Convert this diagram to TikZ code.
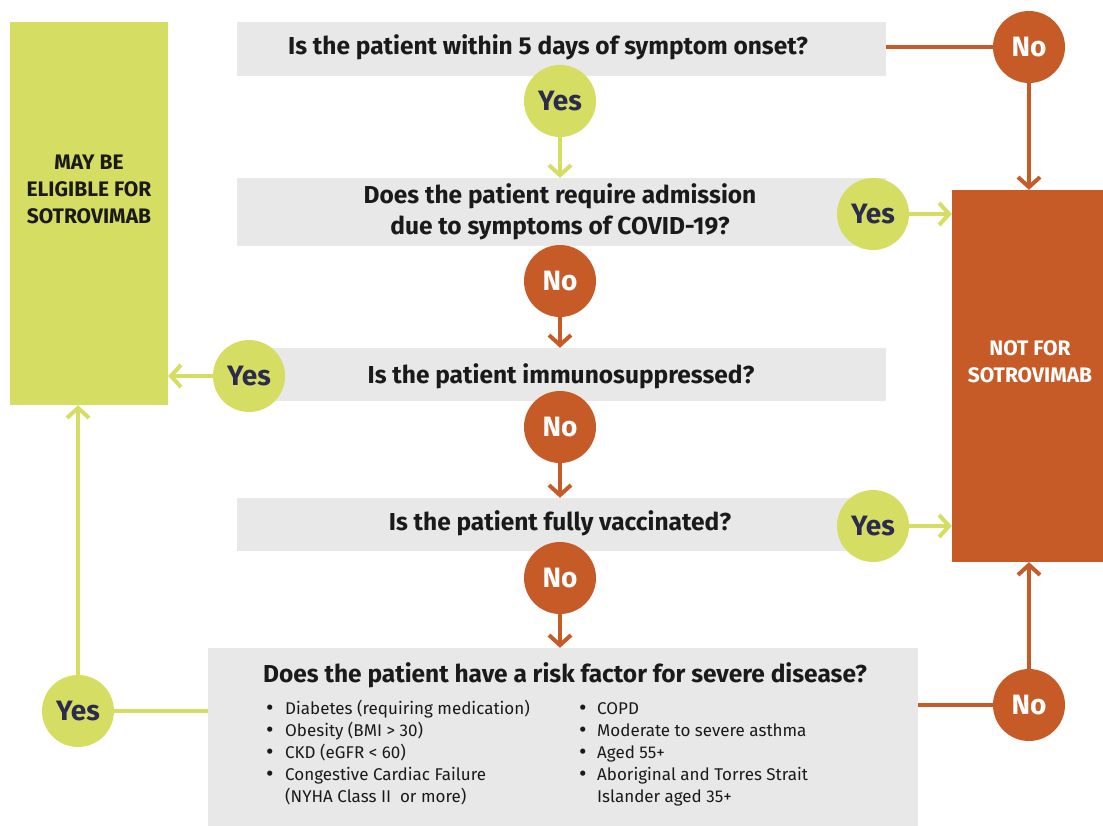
\documentclass[tikz,border=0pt]{standalone}
\usepackage{fontspec}
\setmainfont{Fira Sans}
\usetikzlibrary{arrows.meta}
\definecolor{lime}{HTML}{D5DD63}
\definecolor{rust}{HTML}{C75B27}
\definecolor{panel}{HTML}{E8E8E8}
\definecolor{navy}{HTML}{2B2B4E}
\definecolor{ink}{HTML}{1A1A1A}
\newcommand{\bigbul}{\raisebox{-1.2pt}{\fontsize{23}{22}\selectfont\textbullet}}
\begin{document}
\begin{tikzpicture}[x=1pt,y=-1pt,
  qbox/.style={fill=panel,draw=none,inner sep=0pt},
  qtext/.style={font=\bfseries\fontsize{24.5}{31}\selectfont,text=ink,align=center,inner sep=0pt},
  endbox/.style={draw=none,inner sep=0pt},
  endtext/.style={font=\bfseries\fontsize{21}{27}\selectfont,align=center,inner sep=0pt},
  yescirc/.style={circle,fill=lime,minimum size=72pt,inner sep=0pt,font=\bfseries\fontsize{28}{30}\selectfont,text=navy},
  nocirc/.style={circle,fill=rust,minimum size=72pt,inner sep=0pt,font=\bfseries\fontsize{28}{30}\selectfont,text=white},
  gline/.style={draw=lime,line width=4pt},
  oline/.style={draw=rust,line width=4pt},
  tip/.style={-{Straight Barb[length=10pt,width=22pt]}},
  bul/.style={font=\fontsize{17}{22}\selectfont,text=ink,inner sep=0pt,anchor=north west}
]
\useasboundingbox (0,0) rectangle (1103,825);
% end boxes
\node[endbox,fill=lime,minimum width=158pt,minimum height=383pt] (elig) at (89,213.5) {};
\node[endtext,text=ink] (eligt) at (89,189) {MAY BE\\ELIGIBLE FOR\\SOTROVIMAB};
\node[endbox,fill=rust,minimum width=156pt,minimum height=372pt] (notb) at (1030,376) {};
\node[endtext,text=white] (notbt) at (1030,362) {NOT FOR\\SOTROVIMAB};
% question boxes
\node[qbox,minimum width=649pt,minimum height=54pt] (q1) at (561.5,49) {};
\node[qtext] (q1t) at (548,47) {Is the patient within 5 days of symptom onset?};
\node[qbox,minimum width=649pt,minimum height=68pt] (q2) at (561.5,212) {};
\node[qtext] (q2t) at (560,212) {Does the patient require admission\\due to symptoms of COVID-19?};
\node[qbox,minimum width=649pt,minimum height=53pt] (q3) at (561.5,374.5) {};
\node[qtext] (q3t) at (561,376) {Is the patient immunosuppressed?};
\node[qbox,minimum width=649pt,minimum height=53pt] (q4) at (561.5,524.5) {};
\node[qtext] (q4t) at (560,523) {Is the patient fully vaccinated?};
\node[qbox,minimum width=710pt,minimum height=180pt] (q5) at (563,738) {};
\node[qtext] (q5t) at (565,675) {Does the patient have a risk factor for severe disease?};
\node[bul] (l1) at (266,699) {\begin{tabular}{@{}p{19pt}@{}l@{}}
\bigbul & Diabetes (requiring medication)\\
\bigbul & Obesity (BMI > 30)\\
\bigbul & CKD (eGFR < 60)\\
\bigbul & Congestive Cardiac Failure\\
 & (NYHA Class II\ \ or more)
\end{tabular}};
\node[bul] (l2) at (579,699) {\begin{tabular}{@{}p{18pt}@{}l@{}}
\bigbul & COPD\\
\bigbul & Moderate to severe asthma\\
\bigbul & Aged 55+\\
\bigbul & Aboriginal and Torres Strait\\
 & Islander aged 35+
\end{tabular}};
% circles
\node[nocirc] (n1) at (1029,47) {No};
\node[yescirc] (y1) at (560,101) {Yes};
\node[yescirc] (y2) at (873,214) {Yes};
\node[nocirc] (n2) at (560,281) {No};
\node[yescirc] (y3) at (249,376) {Yes};
\node[nocirc] (n3) at (560,427) {No};
\node[yescirc] (y4) at (873,526) {Yes};
\node[nocirc] (n4) at (560,578) {No};
\node[yescirc] (y5) at (78,711) {Yes};
\node[nocirc] (n5) at (1029,705) {No};
% connectors
\draw[oline] (n1.west -| q1.east) -- (n1.west);
\draw[oline,tip] (n1.south) -- (n1.south |- notb.north);
\draw[gline,tip] (y1.south) -- (y1.south |- q2.north);
\draw[gline,tip] (y2.east) -- (y2.east -| notb.west);
\draw[oline,tip] (n2.south) -- (n2.south |- q3.north);
\draw[gline,tip] (y3.west) -- (y3.west -| elig.east);
\draw[oline,tip] (n3.south) -- (n3.south |- q4.north);
\draw[gline,tip] (y4.east) -- (y4.east -| notb.west);
\draw[oline,tip] (n4.south) -- (n4.south |- q5.north);
\draw[gline] (y5.east -| q5.west) -- (y5.east);
\draw[gline,tip] (y5.north) -- (y5.north |- elig.south);
\draw[oline] (n5.west -| q5.east) -- (n5.west);
\draw[oline,tip] (n5.north) -- (n5.north |- notb.south);
\end{tikzpicture}
\end{document}
